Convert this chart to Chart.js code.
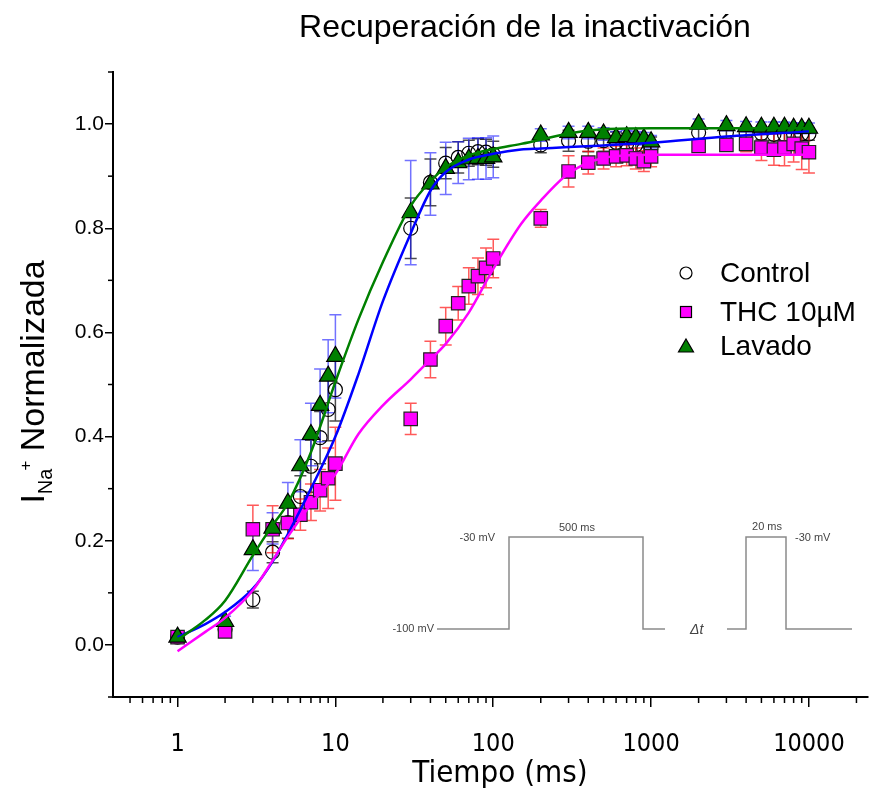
<!DOCTYPE html>
<html>
<head>
<meta charset="utf-8">
<script src="https://cdn.jsdelivr.net/npm/chart.js@4.4.1/dist/chart.umd.min.js"></script>
<style>
  html, body { margin: 0; padding: 0; background: #fff; }
  #wrap { width: 879px; height: 795px; }
</style>
</head>
<body>
<div id="wrap"><canvas id="recChart" width="879" height="795"></canvas></div>
<script>
// time points (ms)
const times = [1, 2, 3, 4, 5, 6, 7, 8, 9, 10, 30, 40, 50, 60, 70, 80, 90, 100,
  200, 300, 400, 500, 600, 700, 800, 900, 1000,
  2000, 3000, 4000, 5000, 6000, 7000, 8000, 9000, 10000];

// Control (open circles)
const control = [0.015, 0.03, 0.087, 0.178, 0.235, 0.285, 0.343, 0.398, 0.452, 0.49,
  0.80, 0.888, 0.925, 0.936, 0.944, 0.947, 0.946, 0.942,
  0.96, 0.968, 0.967, 0.968, 0.965, 0.962, 0.96, 0.952, 0.955,
  0.984, 0.984, 0.983, 0.982, 0.98, 0.98, 0.98, 0.981, 0.981];
const controlErr = [0.01, 0.01, 0.016, 0.02, 0.03, 0.04, 0.05, 0.05, 0.06, 0.06,
  0.058, 0.045, 0.03, 0.03, 0.025, 0.025, 0.025, 0.025,
  0.015, 0.02, 0.02, 0.02, 0.02, 0.02, 0.02, 0.02, 0.02,
  0.012, 0.012, 0.012, 0.012, 0.012, 0.012, 0.012, 0.012, 0.012];

// THC 10uM (magenta squares)
const thc = [0.015, 0.026, 0.222, 0.222, 0.234, 0.25, 0.274, 0.297, 0.32, 0.348,
  0.434, 0.548, 0.612, 0.656, 0.689, 0.708, 0.724, 0.742,
  0.819, 0.909, 0.926, 0.934, 0.938, 0.94, 0.934, 0.929, 0.938,
  0.958, 0.96, 0.962, 0.955, 0.951, 0.955, 0.962, 0.953, 0.946];
const thcErr = [0.01, 0.01, 0.046, 0.045, 0.03, 0.03, 0.035, 0.04, 0.058, 0.07,
  0.03, 0.035, 0.036, 0.032, 0.035, 0.035, 0.038, 0.037,
  0.017, 0.03, 0.022, 0.02, 0.02, 0.02, 0.02, 0.02, 0.02,
  0.01, 0.012, 0.015, 0.025, 0.03, 0.035, 0.035, 0.04, 0.04];

// Lavado (green triangles)
const lavado = [0.015, 0.045, 0.183, 0.224, 0.272, 0.344, 0.404, 0.46, 0.516, 0.554,
  0.83, 0.885, 0.915, 0.926, 0.933, 0.934, 0.934, 0.937,
  0.979, 0.984, 0.984, 0.981, 0.974, 0.976, 0.974, 0.972, 0.966,
  1.0, 0.997, 0.995, 0.994, 0.994, 0.994, 0.992, 0.992, 0.992];
const lavadoErr = [0.01, 0.01, 0.04, 0.03, 0.04, 0.05, 0.06, 0.07, 0.07, 0.08,
  0.1, 0.06, 0.05, 0.04, 0.04, 0.04, 0.04, 0.04,
  0.012, 0.012, 0.012, 0.012, 0.012, 0.012, 0.012, 0.012, 0.012,
  0.01, 0.01, 0.01, 0.01, 0.01, 0.01, 0.01, 0.01, 0.01];

// fitted curves
const fitTimes = [1, 1.5, 2, 3, 4, 5, 7, 10, 14, 20, 30, 40, 50, 70, 100, 150, 200, 300, 500, 1000, 3000, 10000];
const fitControl = [0.015, 0.04, 0.063, 0.108, 0.16, 0.213, 0.30, 0.40, 0.52, 0.66, 0.79, 0.872, 0.908, 0.932, 0.943, 0.951, 0.953, 0.956, 0.959, 0.964, 0.976, 0.986];
const fitThc = [-0.012, 0.025, 0.052, 0.105, 0.162, 0.208, 0.27, 0.328, 0.405, 0.46, 0.51, 0.548, 0.578, 0.638, 0.722, 0.808, 0.853, 0.905, 0.935, 0.941, 0.941, 0.941];
const fitLavado = [0.01, 0.048, 0.085, 0.172, 0.23, 0.272, 0.37, 0.505, 0.625, 0.735, 0.843, 0.89, 0.917, 0.94, 0.952, 0.962, 0.97, 0.982, 0.99, 0.992, 0.992, 0.992];

const xTickLabels = ['1', '10', '100', '1000', '10000'];
const yTickLabels = ['0.0', '0.2', '0.4', '0.6', '0.8', '1.0'];
const legendLabels = ['Control', 'THC 10\u00b5M', 'Lavado'];

const toXY = (xs, ys) => xs.map((x, i) => ({ x: x, y: ys[i] }));
const errSets = [controlErr, thcErr, lavadoErr];
const errColors = ['rgba(0, 0, 0, 0.7)', 'rgba(255, 0, 0, 0.65)', 'rgba(20, 20, 255, 0.6)'];

const FONT = 'Arial, "Liberation Sans", sans-serif';
const NARROW = '"Liberation Sans Narrow", "Arial Narrow", "DejaVu Sans Condensed", Arial, sans-serif';

// error bars drawn under the markers
const errorBars = {
    id: 'errorBars',
    beforeDatasetsDraw(chart) {
        const ctx = chart.ctx;
        const xs = chart.scales.x, ys = chart.scales.y;
        ctx.save();
        ctx.lineWidth = 1.5;
        for (let d = 0; d < 3; d++) {
            const vals = chart.data.datasets[d].data;
            ctx.strokeStyle = errColors[d];
            vals.forEach((p, i) => {
                const e = errSets[d][i];
                const px = xs.getPixelForValue(p.x);
                const top = ys.getPixelForValue(p.y + e);
                const bot = ys.getPixelForValue(p.y - e);
                ctx.beginPath();
                ctx.moveTo(px, top); ctx.lineTo(px, bot);
                ctx.moveTo(px - 6, top); ctx.lineTo(px + 6, top);
                ctx.moveTo(px - 6, bot); ctx.lineTo(px + 6, bot);
                ctx.stroke();
            });
        }
        ctx.restore();
    }
};

// minor ticks, titles, legend and stimulus inset
const decorations = {
    id: 'decorations',
    afterDraw(chart) {
        const ctx = chart.ctx;
        const area = chart.chartArea;
        const xs = chart.scales.x, ys = chart.scales.y;
        ctx.save();

        // minor ticks
        ctx.strokeStyle = '#000';
        ctx.lineWidth = 1.5;
        xs.ticks.forEach(t => {
            const m = t.value / Math.pow(10, Math.floor(Math.log10(t.value) + 1e-9));
            const isInt = Math.abs(m - Math.round(m)) < 1e-6;
            if (!isInt || Math.round(m) === 1) return;
            const px = xs.getPixelForValue(t.value);
            ctx.beginPath(); ctx.moveTo(px, area.bottom); ctx.lineTo(px, area.bottom + 6); ctx.stroke();
        });
        ys.ticks.forEach(t => {
            const k = Math.round(t.value * 10);
            if (k % 2 === 0) return;
            const py = ys.getPixelForValue(t.value);
            ctx.beginPath(); ctx.moveTo(area.left, py); ctx.lineTo(area.left - 5, py); ctx.stroke();
        });

        ctx.fillStyle = '#000';
        // chart title
        ctx.font = '32px ' + FONT;
        ctx.textAlign = 'center';
        ctx.textBaseline = 'middle';
        ctx.fillText('Recuperación de la inactivación', 525, 28);

        // x axis title
        ctx.font = '31px ' + NARROW;
        ctx.fillText('Tiempo (ms)', 500, 774);

        // y axis title with sub/superscript
        ctx.textBaseline = 'alphabetic';
        ctx.textAlign = 'left';
        const big = '34px ' + FONT, sub = '20px ' + FONT, sup = '17px ' + FONT;
        ctx.font = big; const wI = ctx.measureText('I').width;
        ctx.font = sub; const wNa = ctx.measureText('Na').width;
        ctx.font = sup; const wP = ctx.measureText('+').width;
        ctx.font = big; const wN = ctx.measureText(' Normalizada').width;
        const total = wI + wNa + wP + wN;
        ctx.translate(44, 381 + total / 2);
        ctx.rotate(-Math.PI / 2);
        ctx.font = big; ctx.fillText('I', 0, 0);
        ctx.font = sub; ctx.fillText('Na', wI, 8);
        ctx.font = sup; ctx.fillText('+', wI + wNa - 2, -13);
        ctx.font = big; ctx.fillText(' Normalizada', wI + wNa + wP - 2, 0);
        ctx.setTransform(1, 0, 0, 1, 0, 0);

        // legend
        const lx = 686, rows = [273, 312, 346];
        ctx.lineWidth = 1.2;
        ctx.strokeStyle = '#000';
        ctx.beginPath(); ctx.arc(lx, rows[0], 6, 0, Math.PI * 2); ctx.stroke();
        ctx.fillStyle = '#ff00ff';
        ctx.fillRect(lx - 5.5, rows[1] - 5.5, 11, 11); ctx.strokeRect(lx - 5.5, rows[1] - 5.5, 11, 11);
        ctx.fillStyle = '#008000';
        ctx.beginPath(); ctx.moveTo(lx, rows[2] - 7); ctx.lineTo(lx + 7.5, rows[2] + 6); ctx.lineTo(lx - 7.5, rows[2] + 6); ctx.closePath();
        ctx.fill(); ctx.stroke();
        ctx.fillStyle = '#000';
        ctx.font = '28px ' + FONT;
        ctx.textAlign = 'left';
        ctx.textBaseline = 'middle';
        legendLabels.forEach((l, i) => ctx.fillText(l, 720, rows[i] + 1));

        // stimulus protocol inset
        const gy = 629, hy = 537;
        ctx.strokeStyle = '#8a8a8a';
        ctx.lineWidth = 1.5;
        ctx.beginPath();
        ctx.moveTo(437, gy); ctx.lineTo(509, gy); ctx.lineTo(509, hy); ctx.lineTo(643, hy);
        ctx.lineTo(643, gy); ctx.lineTo(665, gy);
        ctx.moveTo(727, gy); ctx.lineTo(746, gy); ctx.lineTo(746, hy); ctx.lineTo(786, hy);
        ctx.lineTo(786, gy); ctx.lineTo(852, gy);
        ctx.stroke();
        ctx.fillStyle = '#444';
        ctx.font = '11px ' + FONT;
        ctx.textBaseline = 'middle';
        ctx.textAlign = 'right';
        ctx.fillText('-100 mV', 434, gy);
        ctx.fillText('-30 mV', 495, hy + 1);
        ctx.textAlign = 'center';
        ctx.fillText('500 ms', 577, hy - 9);
        ctx.fillText('20 ms', 767, hy - 10);
        ctx.textAlign = 'left';
        ctx.fillText('-30 mV', 795, hy + 1);
        ctx.font = 'italic 14px ' + FONT;
        ctx.fillText('\u0394t', 690, gy + 1);

        ctx.restore();
    }
};

const ctx = document.getElementById('recChart').getContext('2d');

const chart = new Chart(ctx, {
    type: 'scatter',
    data: {
        datasets: [
            {
                label: legendLabels[0],
                data: toXY(times, control),
                pointStyle: 'circle',
                pointRadius: 7,
                backgroundColor: 'rgba(255,255,255,0)',
                borderColor: '#000',
                borderWidth: 1.2,
                order: 6
            },
            {
                label: legendLabels[1],
                data: toXY(times, thc),
                pointStyle: 'rect',
                pointRadius: 9.5,
                backgroundColor: '#ff00ff',
                borderColor: '#222',
                borderWidth: 1.2,
                order: 5
            },
            {
                label: legendLabels[2],
                data: toXY(times, lavado),
                pointStyle: 'triangle',
                pointRadius: 10,
                backgroundColor: '#008000',
                borderColor: '#000',
                borderWidth: 1.2,
                order: 4
            },
            {
                data: toXY(fitTimes, fitControl),
                showLine: true, pointRadius: 0,
                borderColor: '#0000ff', borderWidth: 2.5,
                cubicInterpolationMode: 'monotone',
                order: 2
            },
            {
                data: toXY(fitTimes, fitThc),
                showLine: true, pointRadius: 0,
                borderColor: '#ff00ff', borderWidth: 2.5,
                cubicInterpolationMode: 'monotone',
                order: 1
            },
            {
                data: toXY(fitTimes, fitLavado),
                showLine: true, pointRadius: 0,
                borderColor: '#008000', borderWidth: 2.5,
                cubicInterpolationMode: 'monotone',
                order: 0
            }
        ]
    },
    options: {
        responsive: false,
        animation: false,
        events: [],
        layout: { padding: { left: 0, top: 72, right: 9, bottom: 0 } },
        plugins: {
            legend: { display: false },
            tooltip: { enabled: false },
            title: { display: false }
        },
        scales: {
            x: {
                type: 'logarithmic',
                min: 0.39,
                max: 23600,
                afterFit: s => { s.height = 98; s.paddingLeft = 0; s.paddingRight = 0; },
                border: { display: true, color: '#000', width: 2 },
                grid: {
                    drawOnChartArea: false,
                    drawTicks: true,
                    tickLength: 10,
                    lineWidth: 1.5,
                    tickColor: c => xTickLabels.includes(String(c.tick && c.tick.value)) ? '#000' : 'rgba(0,0,0,0)'
                },
                ticks: {
                    autoSkip: false,
                    maxRotation: 0,
                    padding: 22,
                    color: '#000',
                    font: { family: NARROW, size: 25 },
                    callback: v => xTickLabels.includes(String(v)) ? String(v) : ''
                }
            },
            y: {
                min: -0.1,
                max: 1.1,
                afterFit: s => { s.width = 113; },
                afterBuildTicks: s => {
                    s.ticks = [];
                    for (let k = -1; k <= 11; k++) s.ticks.push({ value: k / 10 });
                },
                border: { display: true, color: '#000', width: 2 },
                grid: {
                    drawOnChartArea: false,
                    drawTicks: true,
                    tickLength: 8,
                    lineWidth: 1.5,
                    tickColor: c => yTickLabels.includes(c.tick ? c.tick.value.toFixed(1) : '') ? '#000' : 'rgba(0,0,0,0)'
                },
                ticks: {
                    padding: 1,
                    color: '#000',
                    font: { family: FONT, size: 21 },
                    callback: v => {
                        const s = Number(v).toFixed(1);
                        return yTickLabels.includes(s) ? s : '';
                    }
                }
            }
        }
    },
    plugins: [errorBars, decorations]
});
</script>
</body>
</html>
